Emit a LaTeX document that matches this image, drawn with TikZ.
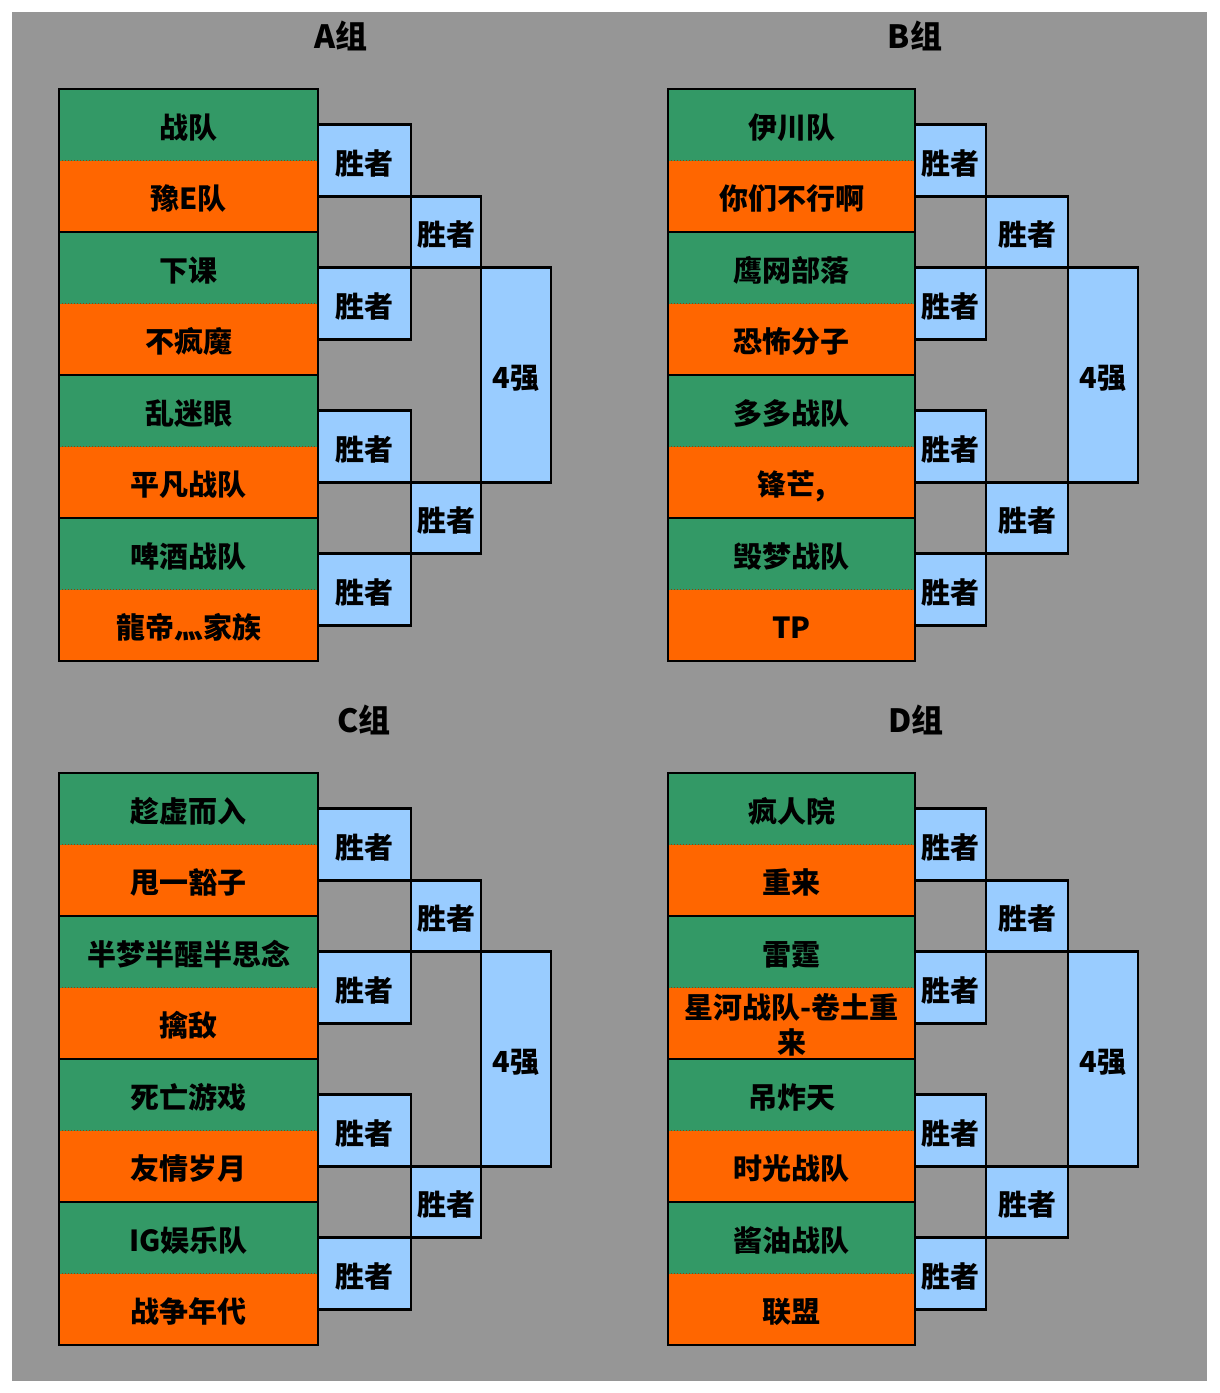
\documentclass[tikz,border=0pt]{standalone}
\usepackage{fontspec}
\setmainfont{Noto Sans CJK SC}
\definecolor{bg}{HTML}{969696}
\definecolor{grn}{HTML}{339966}
\definecolor{org}{HTML}{FF6600}
\definecolor{lblue}{HTML}{99CCFF}
\tikzset{
  cell/.style={rectangle, inner sep=0pt, outer sep=0pt, align=center,
    text height=29pt, text depth=2pt,
    font=\fontsize{29}{35}\selectfont\bfseries},
  boxed/.style={cell, draw=black, line width=2.6pt, fill=lblue},
  frame/.style={draw=black, line width=2.6pt},
  dotline/.style={draw=org!60!black, line width=1pt, dotted},
  title/.style={font=\fontsize{32}{36}\selectfont\bfseries, inner sep=0pt}
}
\def\rh{71.5}
\newcommand\twolines[2]{\raisebox{-17pt}[29pt][2pt]{\begin{tabular}[b]{@{}c@{}}#1\\#2\end{tabular}}}
\newcommand\bracket[8]{%
  \pgfmathsetmacro\bwa{#3-#2}%
  \pgfmathsetmacro\bwb{#4-#3}%
  \pgfmathsetmacro\bwc{#5-#4}%
  \pgfmathsetmacro\bwd{#6-#5}%
  \pgfmathsetmacro\cxa{(#2+#3)/2}%
  \pgfmathsetmacro\cxb{(#3+#4)/2}%
  \pgfmathsetmacro\cxc{(#4+#5)/2}%
  \pgfmathsetmacro\cxd{(#5+#6)/2}%
  \foreach \t [count=\i from 0] in {#8} {
    \pgfmathsetmacro\cy{#7+(\i+0.5)*\rh}
    \pgfmathtruncatemacro\parity{mod(\i,2)}
    \ifnum\parity=0 \def\col{grn}\else\def\col{org}\fi
    \node[cell, fill=\col, minimum width=\bwa pt, minimum height=\rh pt] (#1t\i) at (\cxa,\cy) {\t};
  }
  \foreach \j in {0,2,4,6} {
    \draw[dotline] (#1t\j.south west) -- (#1t\j.south east);
  }
  \foreach \j in {1,3,5} {
    \draw[frame] (#1t\j.south west) -- (#1t\j.south east);
  }
  \draw[frame] (#1t0.north west) rectangle (#1t7.south east);
  \foreach \j in {0,...,3} {
    \pgfmathsetmacro\cy{#7+(2*\j+1)*\rh}
    \node[boxed, minimum width=\bwb pt, minimum height=\rh pt] (#1w\j) at (\cxb,\cy) {胜者};
  }
  \foreach \k in {0,1} {
    \pgfmathsetmacro\cy{#7+(4*\k+2)*\rh}
    \node[boxed, minimum width=\bwc pt, minimum height=\rh pt] (#1s\k) at (\cxc,\cy) {胜者};
  }
  \pgfmathsetmacro\cy{#7+4*\rh}
  \node[boxed, minimum width=\bwd pt, minimum height=3*\rh pt] (#1f) at (\cxd,\cy) {4强};
}
\begin{document}
\begin{tikzpicture}[x=1pt, y=-1pt]
\useasboundingbox (0,0) rectangle (1219,1393);
\fill[white] (0,0) rectangle (1219,1393);
\node[fill=bg, minimum width=1195pt, minimum height=1369pt, inner sep=0pt, anchor=north west] (bgr) at (12,12) {};
\node[title] (tA) at (341,36) {A组};
\node[title] (tB) at (915,36) {B组};
\node[title] (tC) at (364,720) {C组};
\node[title] (tD) at (916,720) {D组};
\bracket{A}{59}{318}{411}{481}{551}{89}{战队,豫E队,下课,不疯魔,乱迷眼,平凡战队,啤酒战队,龍帝灬家族}
\bracket{B}{668}{915}{986}{1068}{1138}{89}{伊川队,你们不行啊,鹰网部落,恐怖分子,多多战队,{锋芒,},毁梦战队,TP}
\bracket{C}{59}{318}{411}{481}{551}{773}{趁虚而入,甩一豁子,半梦半醒半思念,擒敌,死亡游戏,友情岁月,IG娱乐队,战争年代}
\bracket{D}{668}{915}{986}{1068}{1138}{773}{疯人院,重来,雷霆,{\twolines{星河战队-卷土重}{来}},吊炸天,时光战队,酱油战队,联盟}
\end{tikzpicture}
\end{document}
